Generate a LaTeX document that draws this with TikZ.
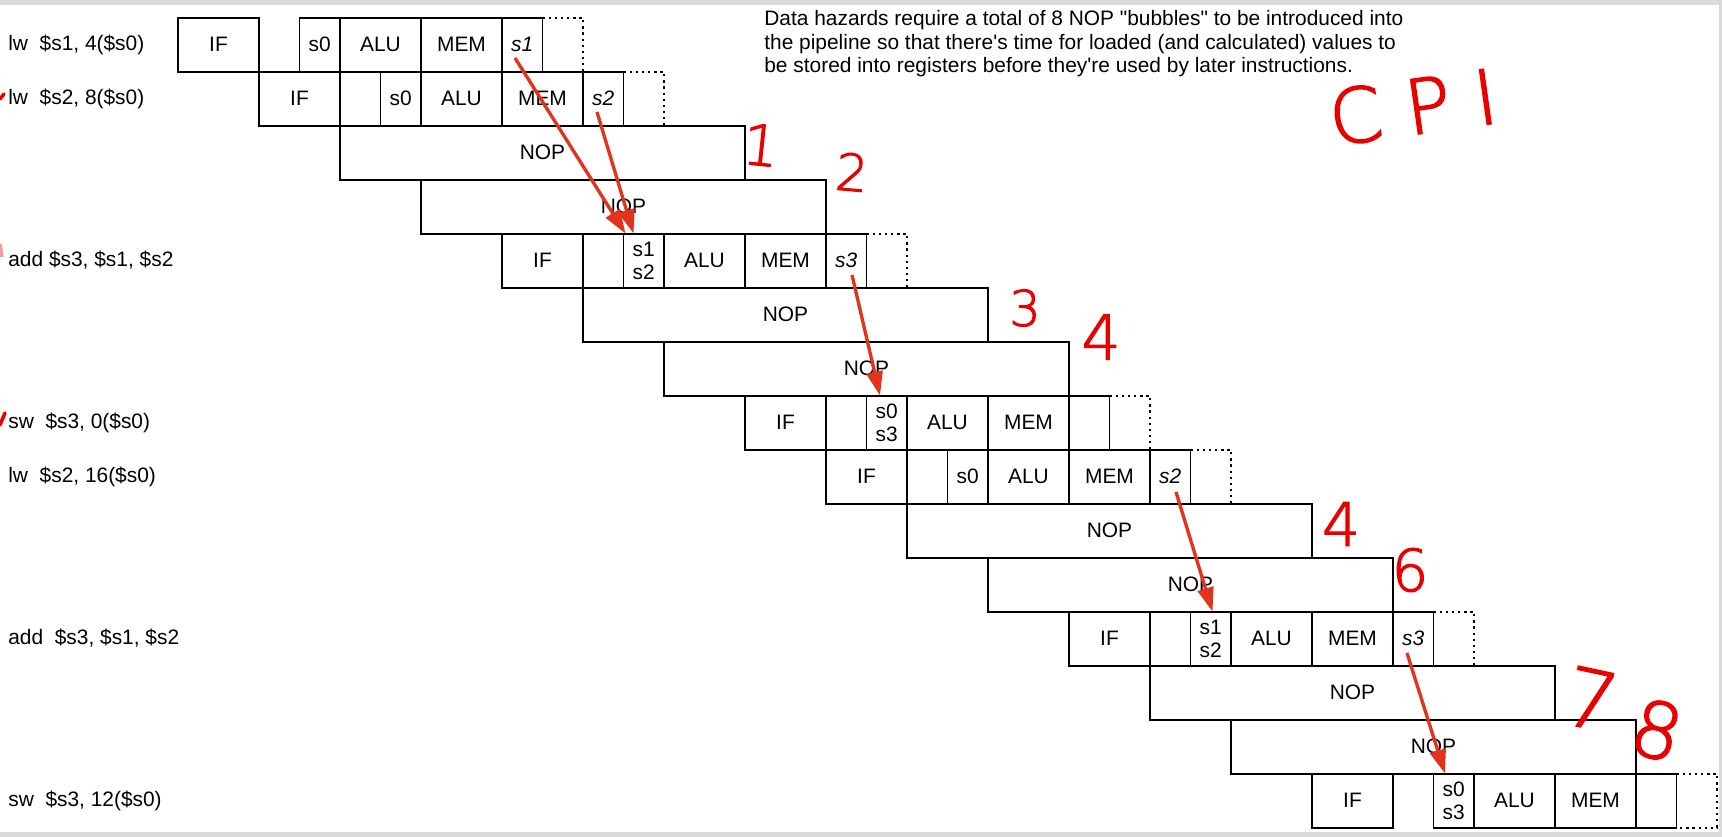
\documentclass[tikz,border=0pt]{standalone}
\usepackage{fontspec}
\setmainfont{Liberation Sans}[Ligatures=TeXOff]
\newfontfamily\inkfont{DejaVu Sans ExtraLight}[FakeBold=2]
\usetikzlibrary{calc,arrows.meta}
\definecolor{arrowred}{RGB}{226,52,28}
\definecolor{inkred}{RGB}{235,0,0}
\definecolor{framegray}{RGB}{218,218,218}
\tikzset{
  cell/.style={draw=black, line width=1.1pt, inner sep=0pt, outer sep=0pt,
    minimum height=1.08cm, font=\fontsize{11.9}{13.3}\selectfont, align=center},
  wide/.style={cell, minimum width=1.62cm},
  half/.style={cell, minimum width=0.81cm},
  nopbox/.style={cell, minimum width=8.1cm},
  wbdots/.style={line width=1.1pt, dash pattern=on 1.3pt off 2.2pt},
  hazard/.style={draw=arrowred, line width=1.9pt, -{Triangle[length=0.48cm,width=0.32cm]}},
  instrlabel/.style={anchor=west, inner sep=0pt, font=\fontsize{11.9}{13.3}\selectfont},
  notetext/.style={anchor=base west, inner sep=0pt, font=\fontsize{11.9}{13.3}\selectfont},
  ink/.style={text=inkred, inner sep=0pt},
}
\newcommand{\pipeinstr}[4]{%
  \pgfmathsetmacro{\psx}{178+81*(#1-1)}%
  \pgfmathsetmacro{\ptop}{17.6+54*(#1-1)}%
  \pgfmathsetmacro{\pcy}{\ptop+27}%
  \draw[wbdots] (\psx+364.5,\ptop) -- (\psx+405,\ptop) -- (\psx+405,\ptop+54) -- (\psx+364.5,\ptop+54);
  \node[wide] (r#1if) at (\psx+40.5,\pcy) {IF};
  \node[half] (r#1reg) at (\psx+141.75,\pcy) {#2};
  \node[wide] (r#1alu) at (\psx+202.5,\pcy) {ALU};
  \node[wide] (r#1mem) at (\psx+283.5,\pcy) {MEM};
  \node[half] (r#1wb) at (\psx+344.25,\pcy) {#3};
  \node[instrlabel] (r#1lab) at (8,\pcy) {#4};
}
\newcommand{\pipenop}[1]{%
  \pgfmathsetmacro{\psx}{178+81*(#1-1)}%
  \pgfmathsetmacro{\pcy}{17.6+54*(#1-1)+27}%
  \node[nopbox] (r#1nop) at (\psx+202.5,\pcy) {NOP};
}
\begin{document}
\begin{tikzpicture}[x=0.02cm, y=-0.02cm]
\useasboundingbox (0,0) rectangle (1722,837);
\fill[framegray] (0,0) rectangle (1722,837);
\fill[white] (0,5) rectangle (1719,832);

\pipeinstr{1}{s0}{\textit{s1}}{lw~~\$s1, 4(\$s0)}
\pipeinstr{2}{s0}{\textit{s2}}{lw~~\$s2, 8(\$s0)}
\pipenop{3}
\pipenop{4}
\pipeinstr{5}{s1\\s2}{\textit{s3}}{add \$s3, \$s1, \$s2}
\pipenop{6}
\pipenop{7}
\pipeinstr{8}{s0\\s3}{}{sw~~\$s3, 0(\$s0)}
\pipeinstr{9}{s0}{\textit{s2}}{lw~~\$s2, 16(\$s0)}
\pipenop{10}
\pipenop{11}
\pipeinstr{12}{s1\\s2}{\textit{s3}}{add~~\$s3, \$s1, \$s2}
\pipenop{13}
\pipenop{14}
\pipeinstr{15}{s0\\s3}{}{sw~~\$s3, 12(\$s0)}

\node[notetext] (note1) at (764,26) {Data hazards require a total of 8 NOP "bubbles" to be introduced into};
\node[notetext] (note2) at (764,49.5) {the pipeline so that there's time for loaded (and calculated) values to};
\node[notetext] (note3) at (764,73) {be stored into registers before they're used by later instructions.};

% hazard arrows
\draw[hazard] ($(r1wb.south west)+(13,-13.6)$) -- ($(r5reg.north west)+(2,0)$);
\draw[hazard] ($(r2wb.south west)+(14,-13.6)$) -- ($(r5reg.north west)+(10,0)$);
\draw[hazard] ($(r5wb.south west)+(26,-12.6)$) -- ($(r8reg.north west)+(13.5,0)$);
\draw[hazard] ($(r9wb.south west)+(26,-11.6)$) -- ($(r12reg.north west)+(22,0)$);
\draw[hazard] ($(r12wb.south west)+(14,-12.6)$) -- ($(r15reg.north west)+(11.5,0)$);

% handwritten annotations
\node[ink, font=\inkfont\fontsize{32}{32}\selectfont, rotate=-6] (h1) at (761,145) {1};
\node[ink, font=\inkfont\fontsize{29}{29}\selectfont, rotate=-5] (h2) at (852,172) {2};
\node[ink, font=\inkfont\fontsize{28}{28}\selectfont] (h3) at (1025,308) {3};
\node[ink, font=\inkfont\fontsize{35}{35}\selectfont] (h4a) at (1101,337) {4};
\node[ink, font=\inkfont\fontsize{34}{34}\selectfont] (h4b) at (1341,524) {4};
\node[ink, font=\inkfont\fontsize{33}{33}\selectfont] (h6) at (1410,570) {6};
\node[ink, font=\inkfont\fontsize{46}{46}\selectfont, rotate=-12] (h7) at (1591,699) {7};
\node[ink, font=\inkfont\fontsize{44}{44}\selectfont, rotate=-15] (h8) at (1657,730) {8};
\node[ink, font=\inkfont\fontsize{43}{43}\selectfont, rotate=8] (cpi) at (1413,107) {C P I};

% cut-off marks at left edge
\draw[inkred, line width=2pt, line cap=round] (0,99) -- (4,94);
\draw[inkred!40, line width=2pt] (0,244) -- (2,257);
\draw[inkred, line width=2pt, line cap=round] (0,425) -- (5,413);
\end{tikzpicture}
\end{document}
